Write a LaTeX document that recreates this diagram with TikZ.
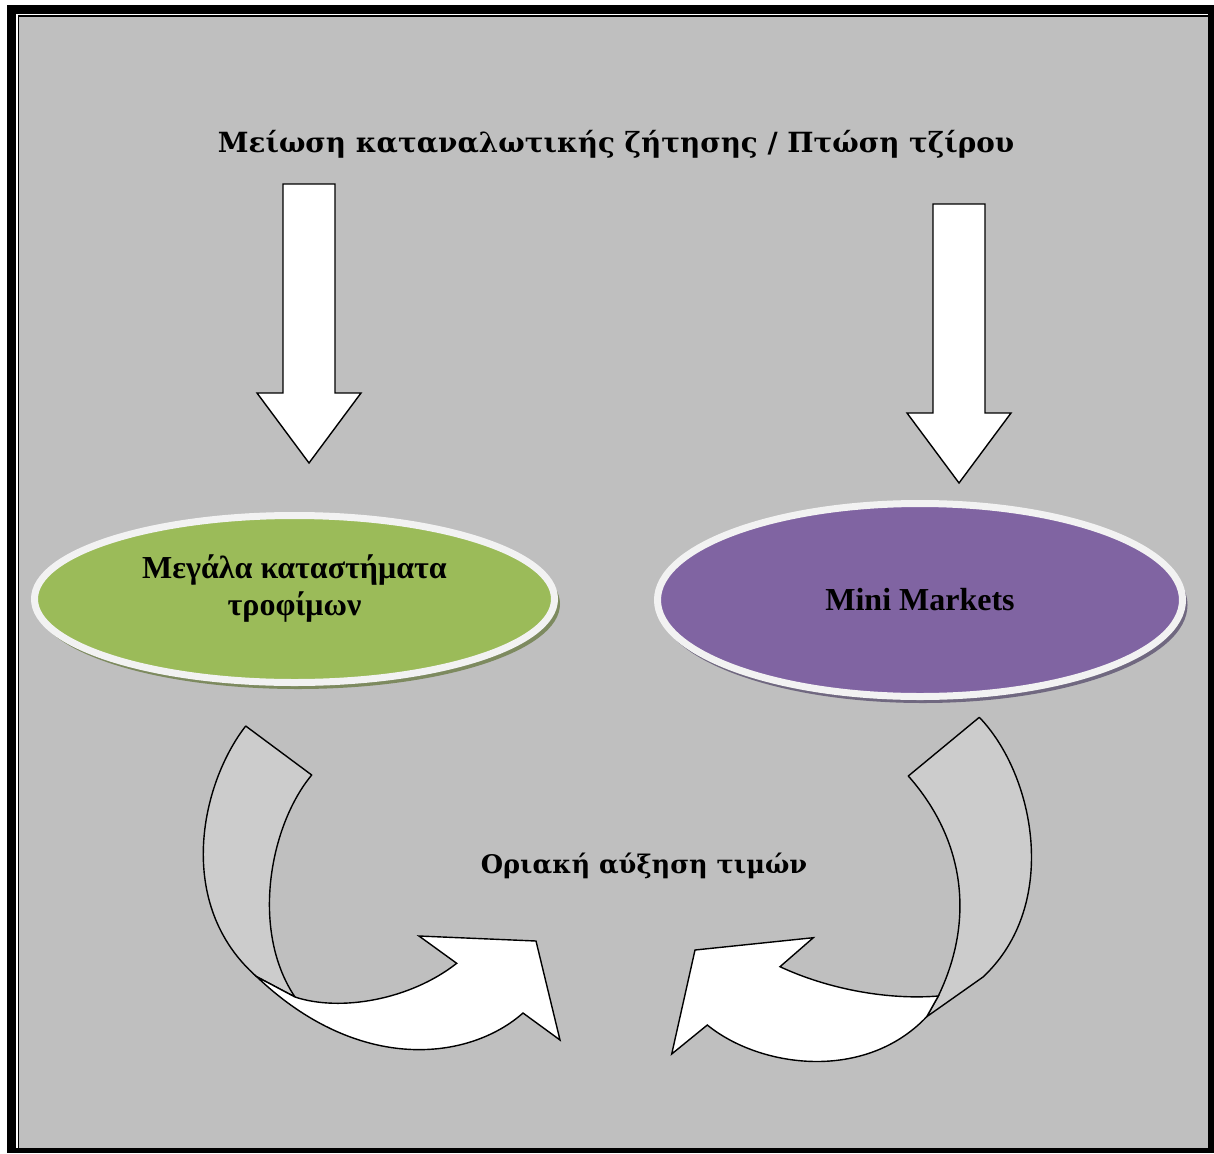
\documentclass[tikz,border=0pt]{standalone}
\usepackage{fontspec}
\setmainfont{Liberation Serif}
\newfontfamily\titlefont{DejaVu Serif}
\usetikzlibrary{shapes.geometric}
\definecolor{bggray}{RGB}{191,191,191}
\definecolor{bandgray}{RGB}{204,204,204}
\definecolor{leafgreen}{RGB}{155,187,89}
\definecolor{violettwo}{RGB}{128,100,162}
\definecolor{ringwhite}{RGB}{242,242,242}
\definecolor{greenshadow}{RGB}{125,138,95}
\definecolor{violetshadow}{RGB}{112,104,128}
\tikzset{
  blockarrow/.style={draw=black, fill=white, line width=1.4pt, line join=miter},
  bandpart/.style={draw=black, fill=bandgray, line width=1.4pt, line join=round},
  frontpart/.style={draw=black, fill=white, line width=1.4pt, line join=miter},
  oval/.style={ellipse, draw=ringwhite, line width=7pt, inner sep=0pt},
  ovalshadow/.style={ellipse, inner sep=0pt},
  headtext/.style={font=\titlefont\bfseries\fontsize{27.8}{32}\selectfont, text=black},
  midtext/.style={font=\titlefont\bfseries\fontsize{25.6}{30}\selectfont, text=black},
  ovaltext/.style={font=\bfseries\fontsize{32}{37}\selectfont, align=center, text=black}
}
\begin{document}
\begin{tikzpicture}[x=1pt,y=-1pt]
\useasboundingbox (0,0) rectangle (1214,1153);
% page frame
\fill[white] (0,0) rectangle (1214,1153);
\fill[black] (7,5) rectangle (1214,1153);
\fill[white] (16,14) rectangle (1208,1148);
\fill[black] (17.7,15.3) rectangle (1208,1148);
\fill[bggray] (19.3,16.7) rectangle (1208,1148);

% title
\node[headtext] (title) at (616,144) {Μείωση καταναλωτικής ζήτησης / Πτώση τζίρου};

% down arrows
\draw[blockarrow] (283,184) -- (335,184) -- (335,393) -- (361,393) -- (309,463) -- (257,393) -- (283,393) -- cycle;
\draw[blockarrow] (933,204) -- (985,204) -- (985,413) -- (1011,413) -- (959,483) -- (907,413) -- (933,413) -- cycle;

% ellipses
\node[ovalshadow, fill=greenshadow, minimum width=524pt, minimum height=170pt] (greenshade) at (298,604) {};
\node[oval, fill=leafgreen, minimum width=520pt, minimum height=167pt] (green) at (294.5,599) {};
\node[ovaltext] (greenlbl) at ([yshift=10pt]green.center) {Μεγάλα καταστήματα\\τροφίμων};

\node[ovalshadow, fill=violetshadow, minimum width=529pt, minimum height=196pt] (violetshade) at (923,605) {};
\node[oval, fill=violettwo, minimum width=525pt, minimum height=193pt] (violet) at (920,600) {};
\node[ovaltext] (violetlbl) at (violet.center) {Mini Markets};

% centre text
\node[midtext] (result) at (644,866) {Οριακή αύξηση τιμών};

% left curved arrow
\draw[bandpart] (245.7,726) .. controls (200,785) and (175,905) .. (256.7,976.7)
  -- (295,997) .. controls (250,930) and (270,825) .. (311.7,775) -- cycle;
\draw[frontpart] (256.7,976.7) -- (295,997) .. controls (340,1012) and (410,1000) .. (456.7,963.3)
  -- (419,936) -- (536,941) -- (560,1040) -- (523,1013)
  .. controls (470,1060) and (360,1075) .. (256.7,976.7) -- cycle;

% right curved arrow
\draw[bandpart] (979.3,717.3) .. controls (1035,775) and (1060,905) .. (983,977)
  -- (926.7,1016.7) -- (938.3,996) .. controls (975,920) and (965,840) .. (908.3,776) -- cycle;
\draw[frontpart] (938.3,996) .. controls (890,1000) and (830,990) .. (780,966.7)
  -- (813.3,937.7) -- (695,950) -- (671.7,1054) -- (707.3,1025)
  .. controls (760,1068) and (865,1082) .. (926.7,1016.7) -- cycle;
\end{tikzpicture}
\end{document}
